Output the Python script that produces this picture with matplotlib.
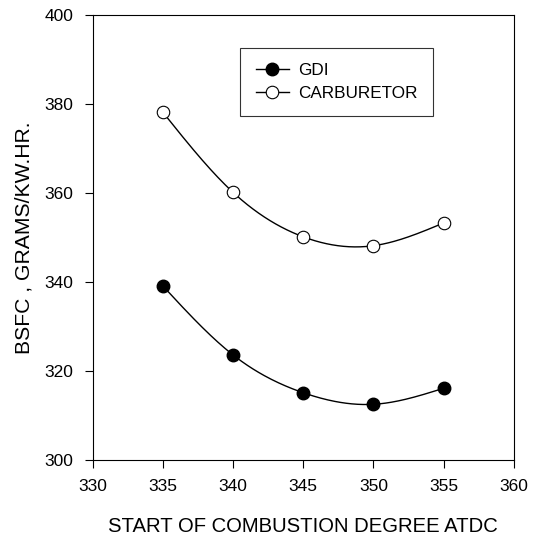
import numpy as np
import matplotlib
matplotlib.use("Agg")
import matplotlib.pyplot as plt

plt.rcParams['font.family'] = ['Liberation Sans', 'DejaVu Sans']

# data
soc = [335, 340, 345, 350, 355]
gdi = [339.1, 323.6, 315.1, 312.5, 316.1]
carb = [378.1, 360.1, 350.1, 348.1, 353.2]


def natural_spline(x, y, xs):
    # natural cubic spline through the points
    x = np.asarray(x, float)
    y = np.asarray(y, float)
    n = len(x)
    h = np.diff(x)
    A = np.zeros((n, n))
    b = np.zeros(n)
    A[0, 0] = 1
    A[-1, -1] = 1
    for i in range(1, n - 1):
        A[i, i - 1] = h[i - 1]
        A[i, i] = 2 * (h[i - 1] + h[i])
        A[i, i + 1] = h[i]
        b[i] = 3 * ((y[i + 1] - y[i]) / h[i] - (y[i] - y[i - 1]) / h[i - 1])
    c = np.linalg.solve(A, b)
    out = np.empty_like(xs)
    for k, xv in enumerate(xs):
        i = min(max(np.searchsorted(x, xv) - 1, 0), n - 2)
        dx = xv - x[i]
        bi = (y[i + 1] - y[i]) / h[i] - h[i] * (2 * c[i] + c[i + 1]) / 3
        di = (c[i + 1] - c[i]) / (3 * h[i])
        out[k] = y[i] + bi * dx + c[i] * dx ** 2 + di * dx ** 3
    return out


fig = plt.figure(figsize=(5.38, 5.38), dpi=100)
ax = fig.add_axes([0.172, 0.145, 0.783, 0.828])

xs = np.linspace(soc[0], soc[-1], 200)
ax.plot(xs, natural_spline(soc, gdi, xs), color='black', lw=1)
ax.plot(xs, natural_spline(soc, carb, xs), color='black', lw=1)
ax.plot(soc, gdi, 'o', color='black', ms=9, mec='black')
ax.plot(soc, carb, 'o', color='white', ms=9, mec='black', mew=0.8)

# legend handles
h1, = ax.plot([], [], '-o', color='black', mfc='black', mec='black', ms=9, lw=1)
h2, = ax.plot([], [], '-o', color='black', mfc='white', mec='black', ms=9, mew=0.8, lw=1)
leg = ax.legend([h1, h2], ['GDI', 'CARBURETOR'], loc='upper left',
                bbox_to_anchor=(0.351, 0.925), fancybox=False, edgecolor='black',
                fontsize=12.3, handlelength=1.95, borderpad=0.9, labelspacing=0.45,
                handletextpad=0.5, borderaxespad=0)
leg.get_frame().set_linewidth(0.8)

ax.set_xlim(330, 360)
ax.set_ylim(300, 400)
ax.set_xticks(range(330, 361, 5))
ax.set_yticks(range(300, 401, 20))
ax.tick_params(direction='out', length=6, pad=8, labelsize=12.5, top=False, right=False)
ax.set_xlabel('START OF COMBUSTION DEGREE ATDC', fontsize=14.6, labelpad=16)
ax.set_ylabel('BSFC , GRAMS/KW.HR.', fontsize=15.2, labelpad=8)

plt.savefig('out.png', dpi=100)
